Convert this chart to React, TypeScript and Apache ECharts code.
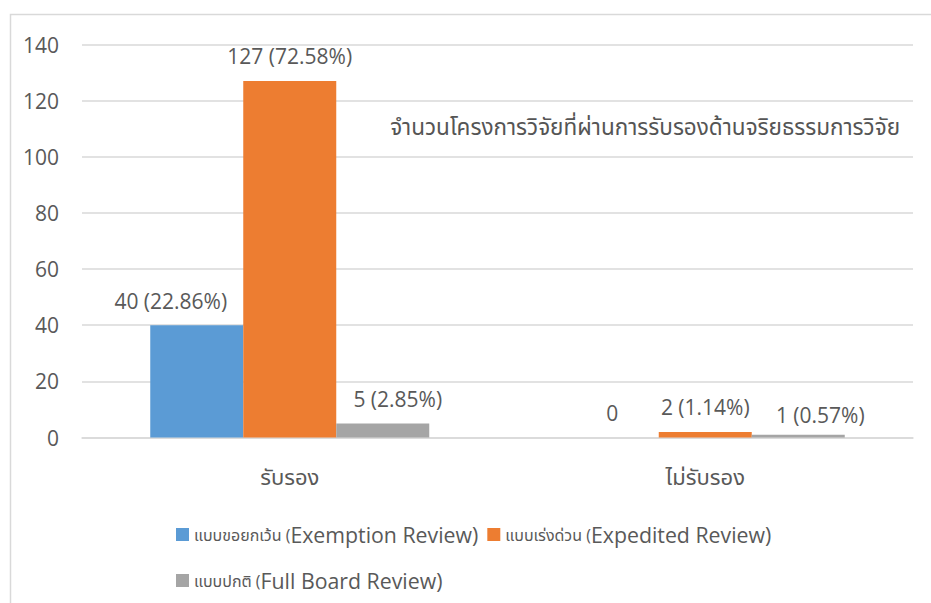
import React, { useEffect, useRef } from "react";
import * as echarts from "echarts";

const categories = ["รับรอง", "ไม่รับรอง"];
const seriesNames = [
  "แบบขอยกเว้น (Exemption Review)",
  "แบบเร่งด่วน (Expedited Review)",
  "แบบปกติ (Full Board Review)",
];
const exemptionValues = [40, 0];
const expeditedValues = [127, 2];
const fullBoardValues = [5, 1];
const exemptionPct = ["22.86", null];
const expeditedPct = ["72.58", "1.14"];
const fullBoardPct = ["2.85", "0.57"];
const yTicks = { min: 0, max: 140, interval: 20 };
const titleText = "จำนวนโครงการวิจัยที่ผ่านการรับรองด้านจริยธรรมการวิจัย";

const COLORS = ["#5B9BD5", "#ED7D31", "#A5A5A5"];
const TEXT = "#595959";
const LATIN = "'Open Sans', 'Noto Sans Thai', 'Noto Sans', sans-serif";
const labelOffsets = [
  [[-26, 0], [0, 0]],
  [[0, 0], [0, 0]],
  [[15, 0], [22, 5]],
];

export default function App() {
  const ref = useRef<HTMLDivElement>(null);
  useEffect(() => {
    if (!ref.current) return;
    const chart = echarts.init(ref.current, undefined, { renderer: "svg" });
    const values = [exemptionValues, expeditedValues, fullBoardValues];
    const pcts = [exemptionPct, expeditedPct, fullBoardPct];
    const series = values.map((vals, si) => ({
      name: seriesNames[si],
      type: "bar",
      barWidth: 93,
      barGap: "0%",
      itemStyle: { color: COLORS[si] },
      data: vals.map((v, i) => ({
        value: v,
        label: { offset: labelOffsets[si][i] },
      })),
      label: {
        show: true,
        position: "top",
        distance: 14,
        color: TEXT,
        fontSize: 21,
        fontFamily: LATIN,
        formatter: (p: any) => {
          const pct = pcts[si][p.dataIndex];
          return pct == null ? `${p.value}` : `${p.value} (${pct}%)`;
        },
      },
    }));
    const legendFmt = (name: string) => {
      const idx = name.indexOf("(");
      return `{t|${name.slice(0, idx + 1)}}{e|${name.slice(idx + 1)}}`;
    };
    const legendText = {
      color: TEXT,
      rich: {
        t: { fontSize: 16, color: TEXT, fontFamily: LATIN, lineHeight: 26 },
        e: { fontSize: 21.3, color: TEXT, fontFamily: LATIN, lineHeight: 26 },
      },
    };
    chart.setOption({
      animation: false,
      textStyle: { fontFamily: LATIN },
      title: {
        text: titleText,
        right: 31,
        top: 115,
        padding: 0,
        textStyle: { color: "#555555", fontSize: 22.5, fontWeight: "normal", fontFamily: LATIN },
      },
      legend: [
        {
          data: [seriesNames[0], seriesNames[1]],
          left: 171,
          top: 519,
          itemWidth: 13,
          itemHeight: 13,
          itemGap: 9,
          icon: "rect",
          formatter: legendFmt,
          textStyle: legendText,
        },
        {
          data: [seriesNames[2]],
          left: 171,
          top: 565,
          itemWidth: 13,
          itemHeight: 13,
          itemGap: 9,
          icon: "rect",
          formatter: legendFmt,
          textStyle: legendText,
        },
      ],
      grid: { left: 82, right: 18, top: 44.5, bottom: 165.5, containLabel: false },
      xAxis: {
        type: "category",
        data: categories,
        axisTick: { show: false },
        axisLine: { lineStyle: { color: "#D9D9D9", width: 1.5 } },
        axisLabel: { color: TEXT, fontSize: 22, margin: 27, fontFamily: LATIN },
      },
      yAxis: {
        type: "value",
        min: yTicks.min,
        max: yTicks.max,
        interval: yTicks.interval,
        axisLine: { show: false },
        axisTick: { show: false },
        splitLine: { lineStyle: { color: "#D9D9D9", width: 1.5 } },
        axisLabel: { color: TEXT, fontSize: 21, margin: 23, fontFamily: LATIN },
      },
      graphic: [
        {
          type: "rect",
          shape: { x: 10.5, y: 14.5, width: 960, height: 620 },
          style: { fill: "none", stroke: "#D9D9D9", lineWidth: 1.5 },
          silent: true,
          z: -10,
        },
      ],
      series,
    });
    return () => chart.dispose();
  }, []);
  return (
    <div
      ref={ref}
      style={{ position: "absolute", left: 0, top: 0, width: 931, height: 603, background: "#fff" }}
    />
  );
}
